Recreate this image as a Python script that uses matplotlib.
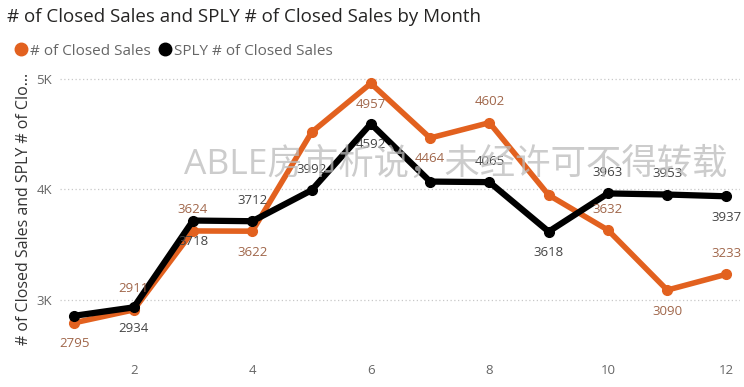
import matplotlib
matplotlib.use("Agg")
import matplotlib.pyplot as plt

months = [1, 2, 3, 4, 5, 6, 7, 8, 9, 10, 11, 12]
closed_sales = [2795, 2911, 3624, 3622, 4515, 4957, 4464, 4602, 3948, 3632, 3090, 3233]
sply_closed_sales = [2858, 2934, 3718, 3712, 3992, 4592, 4070, 4065, 3618, 3963, 3953, 3937]
closed_labels = [True, True, True, True, False, True, True, True, False, True, True, True]
sply_labels = [False, True, True, True, True, True, False, True, True, True, True, True]
y_ticks = [3000, 4000, 5000]
y_ticklabels = ["3K", "4K", "5K"]
x_ticks = [2, 4, 6, 8, 10, 12]

# label placement style: +1 above, -1 below
closed_side = [-1, 1, 1, -1, 1, -1, -1, 1, 1, 1, -1, 1]
sply_side = [1, -1, -1, 1, 1, -1, 1, 1, -1, 1, 1, -1]

plt.rcParams['font.family'] = ['Open Sans', 'Noto Sans CJK SC', 'DejaVu Sans']

fig = plt.figure(figsize=(7.44, 3.87), dpi=100)
ax = fig.add_axes([0.081, 0.096, 0.913, 0.728])

orange = "#E2611F"
ax.plot(months, closed_sales, color=orange, lw=4.0, marker='o', ms=7, zorder=3,
        label="# of Closed Sales", solid_capstyle='round')
ax.plot(months, sply_closed_sales, color="black", lw=4.5, marker='o', ms=7, zorder=4,
        label="SPLY # of Closed Sales", solid_capstyle='round')

for m, v, show, s in zip(months, closed_sales, closed_labels, closed_side):
    if show:
        ax.annotate(str(v), (m, v), xytext=(0, 21 * s), textcoords='offset pixels',
                    ha='center', va='center', fontsize=9.5, color="#A0664A", zorder=6)
for m, v, show, s in zip(months, sply_closed_sales, sply_labels, sply_side):
    if show:
        ax.annotate(str(v), (m, v), xytext=(0, 21 * s), textcoords='offset pixels',
                    ha='center', va='center', fontsize=9.5, color="#444444", zorder=6)

ax.set_xlim(0.76, 12.22)
ax.set_ylim(2550, 5095)
ax.set_yticks(y_ticks)
ax.set_yticklabels(y_ticklabels)
ax.set_xticks(x_ticks)
ax.tick_params(axis='both', length=0, colors="#666666", labelsize=9.5)
ax.tick_params(axis='x', pad=10)
ax.tick_params(axis='y', pad=6)
for sp in ax.spines.values():
    sp.set_visible(False)
ax.grid(axis='y', color="#C8C8C8", linestyle=(0, (1, 2)), lw=0.9)
ax.set_axisbelow(True)
ax.set_ylabel("# of Closed Sales and SPLY # of Clo...", fontsize=11.5, color="#333333", labelpad=3)

fig.text(0.010, 0.955, "# of Closed Sales and SPLY # of Closed Sales by Month",
         fontsize=13.5, color="#252423", ha='left', va='center')

leg = fig.legend(loc='center left', bbox_to_anchor=(0.002, 0.868), ncol=2, frameon=False,
                 fontsize=11, handlelength=0.7, handletextpad=0.25, columnspacing=0.6,
                 labelcolor="#666666")
for h in leg.legend_handles:
    h.set_linestyle('None')
    h.set_markersize(9)

fig.text(0.612, 0.574, "ABLE房市析说，未经许可不得转载", fontsize=25.5, color="#BBBBBB",
         alpha=0.75, ha='center', va='center', zorder=10)

fig.savefig("out.png", dpi=100)
